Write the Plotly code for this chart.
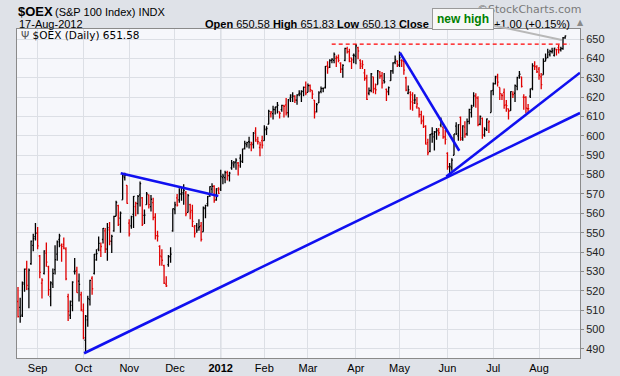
import plotly.graph_objects as go

# ---------------- data ----------------
opens = [
514.5, 511.5, 507.5, 523.5, 531.5, 521.0, 534.0, 543.5, 548.0, 550.0,
538.0, 524.0, 529.0, 539.5, 532.5, 517.0, 523.5, 531.0, 539.0, 546.5,
543.5, 544.0, 541.5, 517.0, 507.5, 514.5, 530.0, 530.5, 525.0, 518.0,
509.5, 494.5, 505.0, 515.5, 526.5, 529.0, 536.0, 541.5, 541.0, 546.5,
551.0, 541.5, 551.5, 545.5, 551.0, 558.5, 564.0, 557.5, 567.0, 578.5,
574.5, 555.0, 553.5, 559.5, 563.5, 565.0, 569.5, 568.0, 559.0, 564.5,
569.5, 563.5, 565.5, 558.0, 548.5, 543.0, 537.5, 533.0, 523.5, 533.5,
537.5, 551.0, 562.0, 568.0, 567.0, 570.0, 570.0, 570.5, 560.5, 564.5,
561.5, 553.0, 553.5, 552.5, 553.5, 550.5, 562.5, 565.0, 569.5, 572.5,
574.0, 567.0, 572.0, 572.5, 578.5, 578.5, 581.0, 579.5, 583.5, 585.0,
586.5, 586.0, 588.5, 587.0, 593.5, 595.5, 597.0, 595.5, 595.5, 602.5,
597.0, 594.0, 597.5, 597.5, 603.5, 606.0, 611.5, 611.5, 613.5, 615.0,
612.5, 613.5, 615.5, 616.0, 612.0, 619.5, 621.0, 620.5, 618.5, 621.5,
621.5, 623.0, 625.0, 622.5, 626.0, 623.5, 618.5, 612.5, 617.0, 623.0,
624.5, 625.0, 636.0, 635.5, 639.0, 639.0, 640.0, 640.5, 637.5, 634.5,
639.0, 645.0, 643.5, 638.5, 641.5, 641.0, 645.5, 639.0, 636.0, 632.5,
630.0, 622.0, 623.5, 630.5, 624.5, 626.5, 633.0, 631.0, 628.5, 624.0,
623.0, 628.5, 633.5, 638.0, 638.5, 636.5, 639.0, 638.5, 630.0, 622.0,
622.5, 617.5, 618.5, 615.0, 614.5, 611.0, 608.0, 605.0, 596.5, 592.0,
601.0, 599.5, 602.0, 602.5, 605.5, 604.5, 599.5, 591.0, 584.0, 583.5,
590.0, 605.0, 600.0, 609.5, 599.0, 604.5, 601.0, 607.5, 612.0, 615.5,
620.5, 619.5, 606.0, 609.0, 600.5, 603.5, 607.0, 612.0, 623.5, 627.0,
630.0, 625.0, 621.0, 622.5, 616.0, 614.0, 613.0, 621.5, 622.0, 625.5,
631.0, 630.5, 620.0, 620.0, 614.0, 620.5, 624.5, 636.0, 635.5, 634.5,
630.5, 631.5, 638.5, 640.5, 642.0, 643.5, 641.5, 644.5, 645.5, 644.5,
645.0, 650.58]

highs = [
522.0, 516.5, 524.8, 531.5, 535.5, 531.5, 546.0, 549.5, 555.0, 553.0,
538.5, 526.5, 541.0, 545.0, 533.0, 525.0, 531.5, 543.5, 546.0, 549.5,
544.5, 547.5, 542.5, 518.5, 515.0, 525.0, 537.0, 532.5, 529.0, 519.5,
513.5, 507.5, 517.5, 525.8, 527.5, 539.0, 541.5, 548.0, 545.0, 552.5,
552.5, 555.0, 555.5, 549.0, 558.8, 566.5, 564.5, 561.0, 580.5, 581.0,
574.5, 557.0, 558.8, 569.0, 566.0, 569.5, 576.5, 568.5, 562.0, 571.0,
569.8, 569.5, 568.0, 560.0, 551.0, 543.5, 541.5, 533.5, 527.5, 538.5,
542.5, 562.5, 566.0, 570.0, 573.0, 573.5, 575.0, 571.5, 570.0, 565.0,
564.5, 554.0, 555.0, 557.0, 555.5, 563.5, 564.5, 569.0, 574.0, 575.5,
574.5, 573.0, 573.5, 582.5, 580.5, 582.0, 582.0, 581.5, 587.5, 587.0,
588.5, 586.5, 590.5, 593.5, 597.5, 597.0, 599.5, 597.0, 602.0, 604.5,
599.5, 597.0, 600.0, 605.5, 605.0, 613.5, 612.8, 615.5, 615.0, 617.5,
612.5, 616.0, 616.0, 619.5, 619.0, 621.5, 622.5, 621.0, 621.5, 623.5,
623.5, 625.5, 628.0, 627.0, 626.5, 623.5, 618.5, 617.0, 623.0, 625.5,
625.0, 636.0, 638.5, 639.5, 640.0, 643.0, 641.5, 642.0, 638.0, 637.0,
645.5, 646.0, 645.0, 640.5, 642.5, 647.4, 646.0, 639.5, 639.0, 634.5,
631.5, 625.0, 632.5, 630.5, 627.0, 634.0, 633.5, 633.0, 632.5, 624.5,
625.5, 634.0, 638.0, 641.5, 639.0, 643.5, 639.5, 639.5, 630.5, 626.0,
623.0, 622.5, 621.5, 620.0, 614.5, 613.0, 610.5, 605.5, 598.5, 601.0,
604.5, 602.5, 604.0, 604.0, 609.5, 604.5, 603.0, 591.5, 586.0, 588.5,
601.0, 607.0, 606.0, 610.0, 605.5, 607.5, 609.0, 614.0, 616.0, 622.5,
622.0, 620.5, 610.5, 609.5, 604.5, 609.0, 608.0, 623.5, 627.5, 631.0,
632.0, 625.0, 622.0, 624.5, 618.5, 614.0, 623.0, 623.0, 626.5, 630.5,
633.5, 630.5, 621.5, 620.5, 616.5, 624.5, 637.5, 638.5, 636.5, 635.5,
632.5, 640.0, 642.5, 645.0, 644.5, 645.5, 645.5, 645.0, 647.0, 646.0,
651.0, 651.83]

lows = [
506.2, 503.5, 506.5, 519.5, 520.5, 511.0, 533.5, 540.5, 546.0, 541.5,
526.5, 516.0, 528.5, 532.5, 517.5, 512.0, 521.5, 528.5, 535.5, 542.5,
535.0, 541.5, 525.5, 504.5, 505.5, 509.5, 528.5, 519.0, 514.5, 509.5,
495.0, 488.0, 501.5, 512.5, 518.0, 528.5, 535.5, 540.5, 537.5, 544.5,
539.5, 535.5, 543.5, 539.5, 550.5, 558.5, 553.5, 550.0, 567.0, 577.0,
565.0, 548.0, 552.0, 552.5, 558.5, 559.5, 563.5, 553.5, 554.5, 564.5,
562.5, 561.0, 556.5, 546.5, 545.5, 533.0, 533.0, 523.5, 522.0, 532.5,
534.5, 550.5, 559.5, 563.5, 565.5, 566.5, 564.5, 558.5, 560.5, 557.0,
553.0, 547.5, 550.0, 551.0, 545.5, 550.5, 557.5, 563.5, 568.5, 570.5,
565.5, 566.5, 570.0, 571.5, 575.0, 575.5, 577.0, 576.5, 582.5, 583.5,
582.5, 579.5, 583.5, 586.0, 593.0, 594.0, 593.5, 592.0, 593.5, 597.0,
595.5, 589.5, 593.5, 597.5, 600.5, 606.0, 609.5, 608.5, 611.0, 611.5,
609.0, 612.5, 609.5, 610.5, 609.5, 617.5, 617.5, 617.0, 616.0, 620.5,
617.5, 620.5, 621.0, 622.5, 622.5, 619.0, 609.0, 612.0, 617.0, 622.0,
622.5, 624.5, 632.0, 635.0, 637.5, 637.5, 635.5, 638.0, 632.5, 630.0,
638.5, 642.5, 638.0, 634.5, 637.5, 637.0, 639.5, 634.5, 634.5, 628.5,
618.5, 621.0, 622.5, 622.0, 621.5, 626.5, 629.5, 624.5, 627.0, 618.0,
621.0, 628.5, 632.0, 637.0, 635.5, 635.5, 635.5, 631.5, 623.0, 621.5,
613.5, 613.0, 616.5, 614.0, 609.5, 606.0, 604.0, 595.5, 590.0, 591.5,
596.5, 592.5, 598.0, 600.0, 604.5, 598.5, 595.5, 582.5, 579.0, 582.0,
590.0, 600.5, 597.5, 597.5, 597.5, 599.0, 600.0, 606.0, 609.5, 615.0,
614.5, 605.0, 605.5, 598.5, 599.5, 602.5, 601.5, 612.0, 621.0, 626.5,
625.5, 618.5, 618.5, 614.0, 612.5, 608.5, 613.0, 619.5, 617.5, 623.5,
629.5, 625.0, 613.5, 611.5, 611.5, 619.5, 623.5, 634.0, 632.5, 629.0,
624.0, 631.5, 638.5, 640.0, 641.0, 642.5, 641.0, 641.5, 642.5, 643.5,
644.5, 650.13]

closes = [
506.7, 506.8, 524.2, 531.1, 522.8, 530.7, 545.7, 547.0, 549.7, 543.2,
529.5, 525.5, 540.6, 534.8, 520.6, 524.2, 529.0, 536.1, 545.3, 548.4,
543.0, 542.1, 526.2, 509.4, 512.5, 524.5, 530.1, 519.1, 523.3, 510.3,
495.8, 506.9, 516.0, 525.4, 521.1, 538.9, 539.2, 544.5, 542.9, 552.3,
541.6, 552.6, 545.7, 548.1, 558.4, 565.6, 554.3, 560.1, 579.3, 579.6,
565.2, 549.4, 558.3, 568.8, 565.2, 568.8, 575.4, 554.3, 559.1, 570.0,
564.5, 567.3, 557.8, 548.5, 548.3, 538.0, 535.8, 524.0, 522.6, 537.8,
539.0, 562.4, 564.4, 564.3, 570.1, 570.7, 571.9, 559.8, 569.2, 560.7,
555.9, 549.6, 551.3, 553.1, 546.6, 562.9, 564.0, 568.7, 573.8, 573.9,
566.7, 572.8, 570.3, 579.1, 579.2, 581.0, 579.5, 580.8, 586.0, 586.1,
587.5, 584.6, 586.7, 593.2, 596.1, 596.5, 596.8, 596.2, 601.4, 597.9,
597.0, 595.4, 595.2, 603.1, 603.8, 612.6, 612.3, 613.6, 614.9, 615.8,
611.6, 615.7, 615.2, 611.8, 618.6, 620.0, 620.5, 618.4, 621.1, 622.1,
622.9, 625.0, 622.1, 625.9, 623.9, 621.5, 611.9, 616.1, 622.2, 624.4,
624.5, 635.9, 635.1, 638.9, 639.6, 642.1, 640.2, 639.0, 634.4, 636.4,
645.2, 643.4, 640.2, 639.2, 641.6, 646.4, 643.8, 637.2, 636.8, 629.6,
618.8, 623.4, 632.0, 624.2, 623.8, 633.5, 630.9, 627.2, 627.9, 622.6,
624.9, 633.5, 637.7, 639.2, 636.7, 640.4, 638.8, 633.9, 623.6, 623.8,
621.2, 617.0, 618.6, 616.5, 611.0, 607.4, 604.8, 595.7, 591.3, 600.7,
601.0, 602.1, 602.9, 601.6, 608.3, 599.5, 598.2, 584.1, 584.2, 587.5,
601.0, 601.0, 605.8, 598.2, 605.2, 600.9, 607.4, 613.7, 614.6, 620.6,
619.6, 605.8, 610.1, 600.4, 603.2, 608.7, 607.4, 623.2, 626.8, 630.7,
627.7, 621.8, 620.8, 615.7, 615.6, 612.7, 622.8, 621.3, 625.9, 630.1,
631.8, 625.5, 619.9, 614.3, 614.1, 624.3, 636.2, 635.9, 633.1, 631.3,
626.5, 638.5, 639.9, 643.2, 643.6, 643.9, 645.3, 644.5, 644.4, 645.1,
650.58, 651.58]

# trading-day index of the first session of each month, and its label
month_ticks = [9, 30, 51, 72, 93, 113, 133, 155, 175, 197, 218, 239]
month_labels = ["Sep", "Oct", "Nov", "Dec", "<b>2012</b>", "Feb", "Mar",
                "Apr", "May", "Jun", "Jul", "Aug"]
year_tick = 93

# drawn trendlines (trading-day index, price)
long_trend_x = [30.3, 257.8]
long_trend_y = [487.8, 611.8]
june_trend_x = [196.5, 257.8]
june_trend_y = [579.0, 632.6]
may_trend_x = [175.2, 202.4]
may_trend_y = [643.0, 592.3]
fall_trend_x = [47.1, 91.9]
fall_trend_y = [580.7, 569.0]
resist_x = [143.9, 253.2]
resist_y = [647.4, 647.4]

# ---------------- figure ----------------
W, H = 620, 376
L, R, T, B = 17, 580, 29, 358

def px(x):
    return (x - L) / (R - L)

def py(y):
    return (B - y) / (B - T)

n = len(closes)
idx = list(range(n))
up_i, dn_i = [], []
for i in idx:
    prev = closes[i - 1] if i > 0 else opens[0]
    (dn_i if closes[i] < prev else up_i).append(i)

fig = go.Figure()
for sel, col in ((up_i, "#000000"), (dn_i, "#e00000")):
    fig.add_trace(go.Ohlc(
        x=sel,
        open=[opens[i] for i in sel],
        high=[highs[i] for i in sel],
        low=[lows[i] for i in sel],
        close=[closes[i] for i in sel],
        increasing=dict(line=dict(color=col, width=1.3)),
        decreasing=dict(line=dict(color=col, width=1.3)),
        tickwidth=0.5,
        showlegend=False, hoverinfo="skip"))

for xs, ys in ((long_trend_x, long_trend_y), (june_trend_x, june_trend_y),
               (may_trend_x, may_trend_y), (fall_trend_x, fall_trend_y)):
    fig.add_trace(go.Scatter(x=xs, y=ys, mode="lines",
                             line=dict(color="#1010f0", width=2.6),
                             showlegend=False, hoverinfo="skip"))

fig.add_trace(go.Scatter(x=resist_x, y=resist_y, mode="lines",
                         line=dict(color="#ff0000", width=1.2, dash="4px,3px"),
                         showlegend=False, hoverinfo="skip"))

# darker year gridline
fig.add_shape(type="line", xref="x", yref="paper", x0=year_tick, x1=year_tick,
              y0=0, y1=1, line=dict(color="#b4b8c0", width=1), layer="below")

font_main = "Liberation Sans, Arial, sans-serif"
font_v = "DejaVu Sans, Verdana, sans-serif"

anns = [
    dict(text="<b>$OEX</b>", x=px(16), y=py(11), font=dict(size=13, color="#000")),
    dict(text="(S&P 100 Index) INDX", x=px(53), y=py(12), font=dict(size=11, color="#000")),
    dict(text="17-Aug-2012", x=px(17), y=py(24), font=dict(size=11, color="#000")),
    dict(text="<b>Open</b> 650.58 <b>High</b> 651.83 <b>Low</b> 650.13 <b>Close</b>",
         x=px(431), y=py(24), xanchor="right", font=dict(size=11, color="#000")),
    dict(text="+1.00 (+0.15%)", x=px(572), y=py(24), xanchor="right",
         font=dict(size=11, color="#000")),
    dict(text="▲", x=px(575), y=py(23), font=dict(size=8, color="#8a8a8a", family=font_v)),
    dict(text="©StockCharts.com", x=px(583), y=py(10), xanchor="right",
         font=dict(size=11, color="#7a7a7a", family=font_v)),
    dict(text="<span style='color:#555'>Ψ</span> $OEX (Daily) 651.58", x=px(19), y=py(35),
         font=dict(size=10.5, color="#000", family=font_v)),
]
for a in anns:
    a.setdefault("xanchor", "left")
    a.update(xref="paper", yref="paper", yanchor="middle", showarrow=False)
    a["font"].setdefault("family", font_main)
    fig.add_annotation(**a)

# callout "new high"
fig.add_annotation(x=249.5, y=649.5, xref="x", yref="y",
                   text="<b>new high</b>", font=dict(size=12, color="#008000", family=font_main),
                   showarrow=True, arrowhead=0, arrowwidth=2, arrowcolor="#b8b8b8",
                   ax=-99, ay=-21, bgcolor="#f7f7f7", bordercolor="#9a9a9a",
                   borderwidth=1, borderpad=3, width=54)

fig.update_layout(
    width=W, height=H,
    margin=dict(l=L, r=W - R, t=T, b=H - B, autoexpand=False),
    paper_bgcolor="#dfe2e8",
    plot_bgcolor="#f6f7fb",
    showlegend=False,
    xaxis=dict(range=[-0.46, 257.8], tickmode="array", tickvals=month_ticks,
               ticktext=month_labels, showgrid=True, gridcolor="#dcdfe5",
               gridwidth=1, zeroline=False, showline=True, mirror=True,
               linecolor="#8a8a8a", linewidth=1, ticks="", ticklen=0,
               automargin=False,
               tickfont=dict(size=11, color="#000", family=font_main),
               rangeslider=dict(visible=False), fixedrange=True),
    yaxis=dict(range=[485.35, 655.16], side="right", dtick=10, tick0=490,
               showgrid=True, gridcolor="#dcdfe5", zeroline=False,
               showline=True, mirror=True, linecolor="#8a8a8a", linewidth=1,
               ticks="outside", ticklen=3, tickcolor="#8a8a8a", automargin=False,
               tickfont=dict(size=11, color="#222", family=font_main),
               fixedrange=True),
)

fig.write_html("out.html", config={"displayModeBar": False},
               post_script="document.body.style.margin='0';"
                           "document.body.style.background='#dfe2e8';")
